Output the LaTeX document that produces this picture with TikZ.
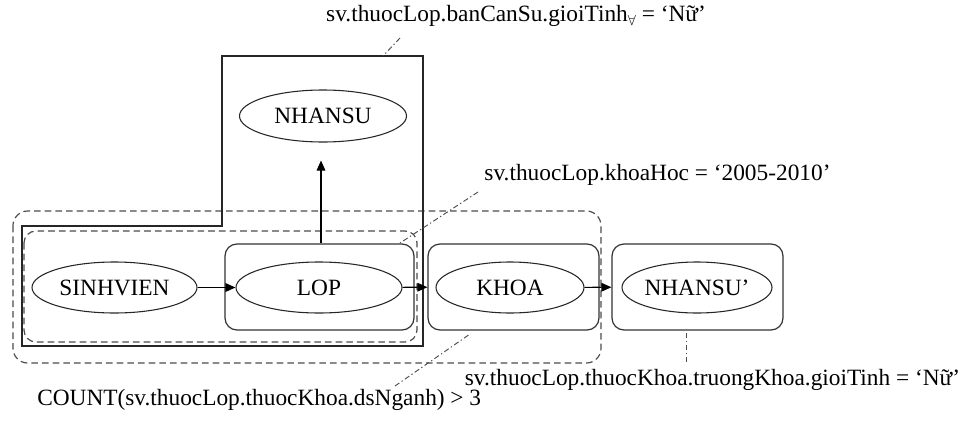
\documentclass[tikz,border=0pt]{standalone}
\usepackage{fontspec}
\setmainfont{Liberation Serif}
\usetikzlibrary{shapes.geometric,arrows.meta}
\tikzset{
  txt/.style={font=\fontsize{17.5}{20}\selectfont, inner sep=0pt},
  ent/.style={ellipse, draw=black!85, line width=0.8pt, inner sep=0pt, minimum height=38.25pt, font=\fontsize{17.5}{20}\selectfont},
  ebox/.style={rectangle, rounded corners=9pt, draw=black!80, line width=0.9pt, minimum height=64.5pt},
  arr/.style={draw=black, line width=0.8pt, -{Triangle[length=7.5pt,width=6.5pt]}},
  grp/.style={draw=black!70, line width=0.9pt, dash pattern=on 5pt off 3pt},
  note/.style={draw=black!70, line width=0.7pt, dash pattern=on 4pt off 2pt on 1pt off 2pt},
  solidgrp/.style={draw=black!85, line width=0.9pt}
}
\begin{document}
\begin{tikzpicture}[x=0.75pt,y=-0.75pt]
\useasboundingbox (0,0) rectangle (961,425);

% group outlines
\draw[grp, rounded corners=11pt] (13,211) rectangle (601,363);
\draw[grp, rounded corners=9pt] (24,231) rectangle (417,342);
\draw[solidgrp] (222,56) -- (423,56) -- (423,346) -- (22,346) -- (22,226) -- (222,226) -- cycle;

% boxes
\node[ebox, minimum width=141.75pt] (lopbox) at (319.5,287) {};
\node[ebox, minimum width=128.25pt] (khoabox) at (513.5,287) {};
\node[ebox, minimum width=128.25pt] (nsbox) at (697.5,287) {};

% entities
\node[ent, minimum width=123.75pt] (sv) at (114.5,287.5) {SINHVIEN};
\node[ent, minimum width=124.5pt] (lop) at (319,287.5) {LOP};
\node[ent, minimum width=111pt] (khoa) at (510,287.5) {KHOA};
\node[ent, minimum width=112.5pt] (ns2) at (697,287.5) {NHANSU’};
\node[ent, minimum width=125.25pt, minimum height=39pt] (ns) at (323,116) {NHANSU};

% arrows
\draw[arr] (sv) -- (lop);
\draw[arr] (lop) -- (khoabox);
\draw[arr] (khoa) -- (nsbox);
\draw[arr, shorten >=13.5pt] (lopbox.north -| 321,0) -- (ns.south -| 321,0);

% labels
\node[txt] (l1) at (516,16) {sv.thuocLop.banCanSu.gioiTinh\raisebox{-3pt}{\fontsize{11}{11}\selectfont$\forall$} = ‘Nữ’};
\node[txt] (l2) at (657.5,175) {sv.thuocLop.khoaHoc = ‘2005-2010’};
\node[txt] (l3) at (712.5,380) {sv.thuocLop.thuocKhoa.truongKhoa.gioiTinh = ‘Nữ’};
\node[txt, anchor=west] (l4) at (37,400) {COUNT(sv.thuocLop.thuocKhoa.dsNganh) > 3};

% note connectors
\coordinate (a1) at (400,38);  \coordinate (b1) at (383,56);
\coordinate (a2) at (478,192); \coordinate (b2) at (400,243);
\coordinate (a3) at (395,386); \coordinate (b3) at (470,334);
\coordinate (a4) at (686,333); \coordinate (b4) at (686,362);
\draw[note] (a1) -- (b1);
\draw[note] (a2) -- (b2);
\draw[note] (a3) -- (b3);
\draw[note] (a4) -- (b4);
\end{tikzpicture}
\end{document}
